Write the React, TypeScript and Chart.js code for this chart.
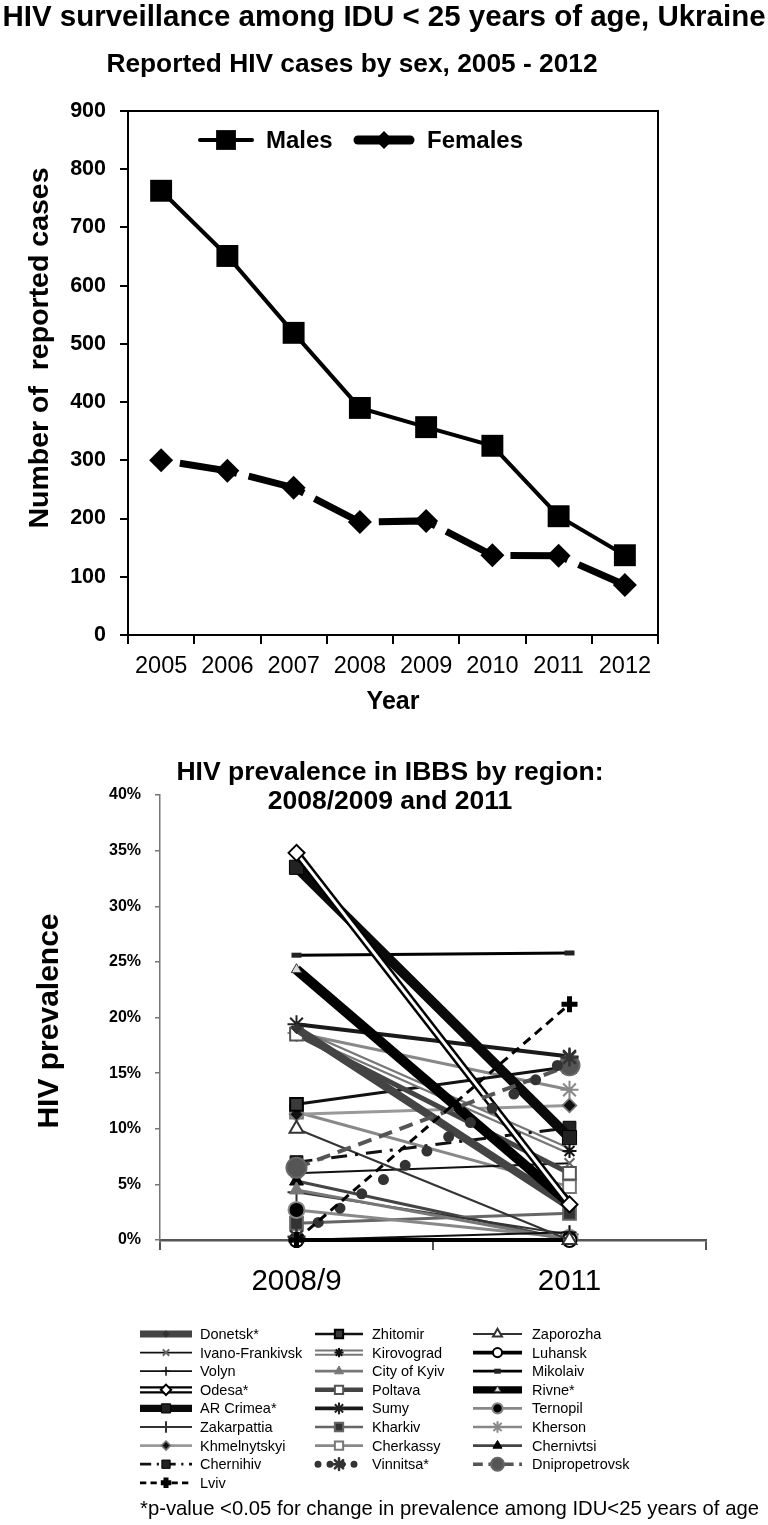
import React, { useEffect, useRef } from 'react';
import { Chart, registerables } from 'chart.js';
import { drawPoint } from 'chart.js/helpers';

Chart.register(...registerables);

const FONT = '"Liberation Sans", Arial, Helvetica, sans-serif';

// ---------- Top chart data ----------
const MAIN_TITLE = 'HIV surveillance among IDU < 25 years of age, Ukraine';
const TOP_TITLE = 'Reported HIV cases by sex, 2005 - 2012';
const TOP_Y_TITLE = 'Number of  reported cases';
const TOP_X_TITLE = 'Year';
const YEARS = ['2005', '2006', '2007', '2008', '2009', '2010', '2011', '2012'];
const MALES = [763, 651, 519, 390, 357, 325, 204, 137];
const FEMALES = [300, 282, 253, 194, 196, 137, 136, 86];

// ---------- Bottom chart data ----------
const BOTTOM_TITLE_1 = 'HIV prevalence in IBBS by region:';
const BOTTOM_TITLE_2 = '2008/2009 and 2011';
const BOTTOM_Y_TITLE = 'HIV prevalence';
const FOOTNOTE = '*p-value <0.05 for change in prevalence among IDU<25 years of age';
const PERIODS = ['2008/9', '2011'];
const REGIONS = [
  'Donetsk*', 'Zhitomir', 'Zaporozha',
  'Ivano-Frankivsk', 'Kirovograd', 'Luhansk',
  'Volyn', 'City of Kyiv', 'Mikolaiv',
  'Odesa*', 'Poltava', 'Rivne*',
  'AR Crimea*', 'Sumy', 'Ternopil',
  'Zakarpattia', 'Kharkiv', 'Kherson',
  'Khmelnytskyi', 'Cherkassy', 'Chernivtsi',
  'Chernihiv', 'Vinnitsa*', 'Dnipropetrovsk',
  'Lviv',
];
const PREV_2008_9 = [
  19.0, 12.2, 10.0,
  6.0, 18.8, 0.0,
  0.0, 4.5, 25.6,
  34.8, 18.5, 24.3,
  33.5, 19.4, 2.7,
  4.3, 1.5, 18.6,
  11.3, 11.5, 5.3,
  7.0, 0.3, 6.5,
  0.0,
];
const PREV_2011 = [
  3.0, 15.6, 0.0,
  6.9, 8.0, 0.0,
  0.7, 0.0, 25.8,
  3.2, 6.0, 3.3,
  9.2, 16.5, 0.2,
  0.5, 2.4, 13.5,
  12.1, 4.8, 0.0,
  10.1, 16.4, 15.7,
  21.2,
];

type Sty = {
  color: string; width: number; dash?: number[]; cap?: CanvasLineCap;
  outline?: string; outlineWidth?: number;
  point: string; radius: number; fill: string; stroke: string; pw: number; order: number;
};

// styles, same order as REGIONS
const STYLES: Sty[] = [
  { color: '#444', width: 8, point: 'rectRot', radius: 5, fill: '#333', stroke: '#333', pw: 1, order: 6 },
  { color: '#111', width: 3, point: 'rect', radius: 9, fill: '#3a3a3a', stroke: '#000', pw: 2, order: 10 },
  { color: '#333', width: 2, point: 'triangle', radius: 8, fill: '#fff', stroke: '#333', pw: 2, order: 10 },
  { color: '#111', width: 2, point: 'crossRot', radius: 7, fill: '#666', stroke: '#666', pw: 2, order: 10 },
  { color: '#fff', width: 2.5, outline: '#777', outlineWidth: 7, point: 'star', radius: 7, fill: '#111', stroke: '#111', pw: 2, order: 9 },
  { color: '#000', width: 4, point: 'circle', radius: 7, fill: '#fff', stroke: '#000', pw: 2, order: 10 },
  { color: '#111', width: 2, point: 'cross', radius: 7, fill: '#111', stroke: '#111', pw: 1.5, order: 10 },
  { color: '#777', width: 3, point: 'triangle', radius: 8, fill: '#777', stroke: '#777', pw: 1, order: 10 },
  { color: '#000', width: 3, point: 'line', radius: 5, fill: '#222', stroke: '#222', pw: 5, order: 10 },
  { color: '#fff', width: 3, outline: '#000', outlineWidth: 8, point: 'rectRot', radius: 8, fill: '#fff', stroke: '#000', pw: 2, order: 3 },
  { color: '#444', width: 5, point: 'rect', radius: 9, fill: '#fff', stroke: '#555', pw: 2, order: 8 },
  { color: '#000', width: 10, point: 'triangle', radius: 6, fill: '#ddd', stroke: '#333', pw: 1, order: 5 },
  { color: '#0a0a0a', width: 10, point: 'rect', radius: 10, fill: '#222', stroke: '#000', pw: 1, order: 4 },
  { color: '#1a1a1a', width: 4, point: 'star', radius: 9, fill: '#222', stroke: '#222', pw: 2, order: 9 },
  { color: '#888', width: 3, point: 'circle', radius: 8, fill: '#000', stroke: '#888', pw: 2, order: 10 },
  { color: '#333', width: 2, point: 'cross', radius: 9, fill: '#333', stroke: '#333', pw: 2, order: 10 },
  { color: '#666', width: 3, point: 'rect', radius: 9, fill: '#333', stroke: '#666', pw: 2, order: 10 },
  { color: '#888', width: 3, point: 'star', radius: 9, fill: '#888', stroke: '#888', pw: 2, order: 10 },
  { color: '#999', width: 3, point: 'rectRot', radius: 7, fill: '#111', stroke: '#777', pw: 1.5, order: 10 },
  { color: '#888', width: 3, point: 'rect', radius: 9, fill: '#fff', stroke: '#777', pw: 2, order: 10 },
  { color: '#444', width: 3, point: 'triangle', radius: 8, fill: '#000', stroke: '#000', pw: 1, order: 10 },
  { color: '#111', width: 3, dash: [16, 8, 3, 8], point: 'rect', radius: 9, fill: '#222', stroke: '#000', pw: 1, order: 7 },
  { color: '#333', width: 11, dash: [0, 26], cap: 'round', point: 'star', radius: 9, fill: '#333', stroke: '#333', pw: 2.5, order: 1 },
  { color: '#555', width: 4, dash: [14, 8], point: 'circle', radius: 10, fill: '#555', stroke: '#666', pw: 2, order: 2 },
  { color: '#000', width: 3, dash: [9, 6], point: 'cross', radius: 8, fill: '#000', stroke: '#000', pw: 5, order: 0 },
];

function textRot(ctx: CanvasRenderingContext2D, text: string, x: number, y: number, font: string) {
  ctx.save();
  ctx.translate(x, y);
  ctx.rotate(-Math.PI / 2);
  ctx.font = font;
  ctx.textAlign = 'center';
  ctx.textBaseline = 'middle';
  ctx.fillText(text, 0, 0);
  ctx.restore();
}

function drawSample(ctx: CanvasRenderingContext2D, s: Sty, x0: number, x1: number, y: number) {
  ctx.save();
  ctx.lineCap = s.cap || 'butt';
  if (s.outline) {
    ctx.strokeStyle = s.outline;
    ctx.lineWidth = (s.outlineWidth || 6) * 0.9;
    ctx.setLineDash([]);
    ctx.beginPath(); ctx.moveTo(x0, y); ctx.lineTo(x1, y); ctx.stroke();
  }
  ctx.strokeStyle = s.color;
  const isDots = s.cap === 'round';
  ctx.lineWidth = isDots ? 7 : Math.min(s.width, 8) * 0.9;
  ctx.setLineDash(isDots ? [0, 12] : (s.dash || []).map((d) => d * 0.7));
  ctx.beginPath(); ctx.moveTo(isDots ? x0 + 3 : x0, y); ctx.lineTo(x1, y); ctx.stroke();
  ctx.setLineDash([]);
  ctx.fillStyle = s.fill;
  ctx.strokeStyle = s.stroke;
  ctx.lineWidth = s.pw;
  drawPoint(ctx, { pointStyle: s.point as any, radius: s.radius * 0.65, borderWidth: s.pw, rotation: 0 } as any, (x0 + x1) / 2, y);
  ctx.restore();
}

const topDecor = {
  id: 'topDecor',
  afterDraw(chart: any) {
    const { ctx, chartArea: a } = chart;
    ctx.save();
    ctx.strokeStyle = '#000';
    ctx.lineWidth = 2;
    ctx.beginPath();
    ctx.moveTo(a.left, a.top);
    ctx.lineTo(a.right, a.top);
    ctx.lineTo(a.right, a.bottom);
    ctx.stroke();

    ctx.fillStyle = '#000';
    ctx.textAlign = 'center';
    ctx.textBaseline = 'middle';
    ctx.font = `bold 29.5px ${FONT}`;
    ctx.fillText(MAIN_TITLE, 384, 18);
    ctx.font = `bold 26.3px ${FONT}`;
    ctx.fillText(TOP_TITLE, 352, 65);
    ctx.font = `bold 25px ${FONT}`;
    ctx.fillText(TOP_X_TITLE, (a.left + a.right) / 2, 702);
    textRot(ctx, TOP_Y_TITLE, 40, 348, `bold 28.5px ${FONT}`);

    // legend
    const ly = 140;
    ctx.lineCap = 'round';
    ctx.strokeStyle = '#000';
    ctx.lineWidth = 4;
    ctx.beginPath(); ctx.moveTo(200, ly); ctx.lineTo(252, ly); ctx.stroke();
    ctx.fillStyle = '#000';
    drawPoint(ctx, { pointStyle: 'rect', radius: 14, borderWidth: 0, rotation: 0 } as any, 226, ly);
    ctx.lineWidth = 9;
    ctx.beginPath(); ctx.moveTo(358, ly); ctx.lineTo(410, ly); ctx.stroke();
    drawPoint(ctx, { pointStyle: 'rectRot', radius: 9, borderWidth: 0, rotation: 0 } as any, 384, ly);
    ctx.textAlign = 'left';
    ctx.font = `bold 24px ${FONT}`;
    ctx.fillText('Males', 266, ly + 1);
    ctx.fillText('Females', 427, ly + 1);
    ctx.restore();
  },
};

const bottomDecor = {
  id: 'bottomDecor',
  afterDraw(chart: any) {
    const { ctx } = chart;
    ctx.save();
    ctx.fillStyle = '#000';
    ctx.textAlign = 'center';
    ctx.textBaseline = 'middle';
    ctx.font = `bold 26.5px ${FONT}`;
    ctx.fillText(BOTTOM_TITLE_1, 390, 43);
    ctx.fillText(BOTTOM_TITLE_2, 390, 72);
    textRot(ctx, BOTTOM_Y_TITLE, 50, 291, `bold 30px ${FONT}`);

    // legend
    const cols = [
      { x0: 140, x1: 192, tx: 200 },
      { x0: 315, x1: 363, tx: 372 },
      { x0: 473, x1: 522, tx: 532 },
    ];
    REGIONS.forEach((name, i) => {
      const row = Math.floor(i / 3);
      const c = cols[i % 3];
      const y = 604 + row * 18.6;
      drawSample(ctx, STYLES[i], c.x0, c.x1, y);
      ctx.fillStyle = '#000';
      ctx.textAlign = 'left';
      ctx.textBaseline = 'middle';
      ctx.font = `14.5px ${FONT}`;
      ctx.fillText(name, c.tx, y + 1);
    });
    ctx.font = `20.3px ${FONT}`;
    ctx.textAlign = 'left';
    ctx.fillText(FOOTNOTE, 140, 779);
    ctx.restore();
  },
};

export default function App() {
  const topRef = useRef<HTMLCanvasElement | null>(null);
  const botRef = useRef<HTMLCanvasElement | null>(null);

  useEffect(() => {
    const top = new Chart(topRef.current as HTMLCanvasElement, {
      type: 'line',
      data: {
        labels: YEARS,
        datasets: [
          {
            label: 'Males', data: MALES, borderColor: '#000', borderWidth: 4,
            pointStyle: 'rect', pointRadius: 15.5, pointBackgroundColor: '#000', pointBorderColor: '#000',
            pointBorderWidth: 0, tension: 0, clip: false as any,
          },
          {
            label: 'Females', data: FEMALES, borderColor: '#000', borderWidth: 7,
            borderDash: [58, 12], borderDashOffset: 51,
            pointStyle: 'rectRot', pointRadius: 12, pointBackgroundColor: '#000', pointBorderColor: '#000',
            pointBorderWidth: 0, tension: 0, clip: false as any,
          },
        ],
      },
      options: {
        animation: false,
        responsive: false,
        maintainAspectRatio: false,
        layout: { padding: { top: 111, right: 110, bottom: 0, left: 0 } },
        plugins: { legend: { display: false }, tooltip: { enabled: false }, title: { display: false } },
        scales: {
          x: {
            type: 'category', offset: true,
            grid: { offset: true, drawOnChartArea: false, drawTicks: true, tickLength: 9, color: '#000', lineWidth: 2 },
            border: { color: '#000', width: 2 },
            ticks: { color: '#000', font: { size: 23.5, family: FONT }, padding: 8, maxRotation: 0 },
            afterFit: (s: any) => { s.height = 95; },
          },
          y: {
            min: 0, max: 900,
            ticks: { stepSize: 100, color: '#000', font: { size: 21.5, weight: 'bold', family: FONT }, padding: 14 },
            grid: { drawOnChartArea: false, tickLength: 8, color: '#000', lineWidth: 2 },
            border: { color: '#000', width: 2 },
            afterFit: (s: any) => { s.width = 128; },
          },
        },
      } as any,
      plugins: [topDecor],
    });

    const datasets: any[] = [];
    REGIONS.forEach((name, i) => {
      const s = STYLES[i];
      const data = [PREV_2008_9[i], PREV_2011[i]];
      datasets.push({
        label: name, data, borderColor: s.color, borderWidth: s.width, borderDash: s.dash || [],
        borderCapStyle: s.cap || 'butt', pointStyle: s.point, pointRadius: s.radius,
        pointBackgroundColor: s.fill, pointBorderColor: s.stroke, pointBorderWidth: s.pw,
        order: s.order, clip: false, tension: 0,
      });
      if (s.outline) {
        datasets.push({
          label: name + ' outline', data, borderColor: s.outline, borderWidth: s.outlineWidth,
          pointRadius: 0, order: s.order + 0.5, clip: false, tension: 0,
        });
      }
    });

    const bot = new Chart(botRef.current as HTMLCanvasElement, {
      type: 'line',
      data: { labels: PERIODS, datasets },
      options: {
        animation: false,
        responsive: false,
        maintainAspectRatio: false,
        layout: { padding: { top: 65, right: 62, bottom: 225, left: 0 } },
        plugins: { legend: { display: false }, tooltip: { enabled: false }, title: { display: false } },
        scales: {
          x: {
            type: 'category', offset: true,
            grid: { offset: true, drawOnChartArea: false, drawTicks: true, tickLength: 10, color: '#555', lineWidth: 2 },
            border: { color: '#555', width: 2.5 },
            ticks: { color: '#000', font: { size: 29.5, family: FONT }, padding: 14, maxRotation: 0 },
            afterFit: (s: any) => { s.height = 60; },
          },
          y: {
            min: 0, max: 40,
            ticks: {
              stepSize: 5, color: '#000', font: { size: 16, weight: 'bold', family: FONT }, padding: 14,
              callback: (v: any) => v + '%',
            },
            grid: { drawOnChartArea: false, tickLength: 5, color: '#777', lineWidth: 1.5 },
            border: { color: '#777', width: 1.5 },
            afterFit: (s: any) => { s.width = 160; },
          },
        },
      } as any,
      plugins: [bottomDecor],
    });

    return () => {
      top.destroy();
      bot.destroy();
    };
  }, []);

  return (
    <div style={{ position: 'absolute', left: 0, top: 0, width: 768, height: 1525, background: '#fff' }}>
      <canvas ref={topRef} width={768} height={730} style={{ position: 'absolute', left: 0, top: 0, width: 768, height: 730 }} />
      <canvas ref={botRef} width={768} height={795} style={{ position: 'absolute', left: 0, top: 730, width: 768, height: 795 }} />
    </div>
  );
}
